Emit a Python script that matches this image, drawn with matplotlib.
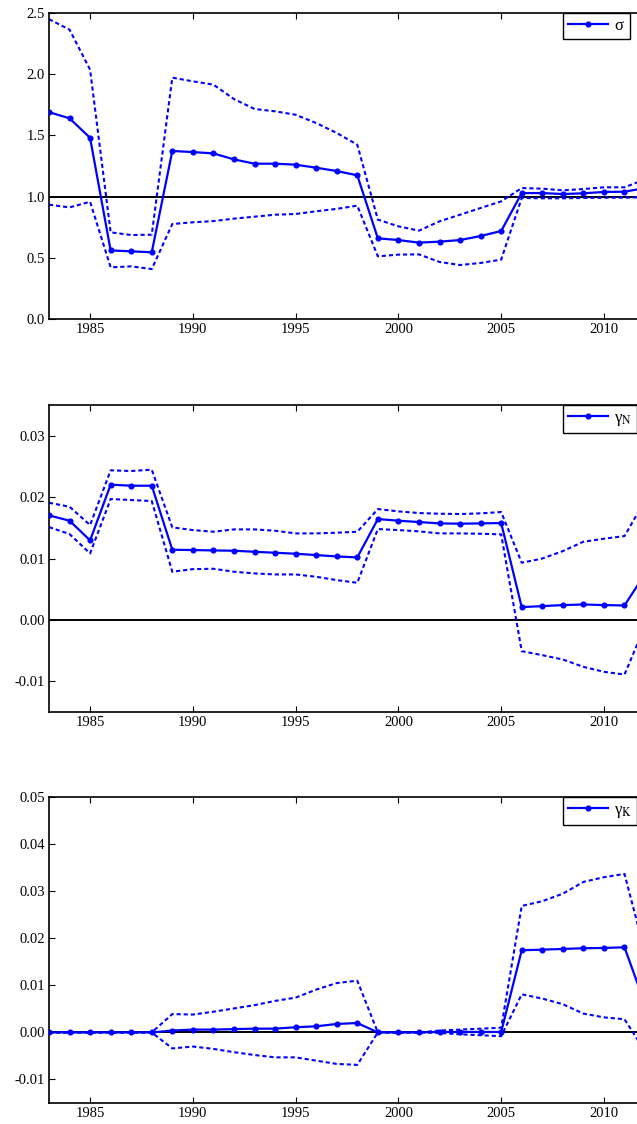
import matplotlib
matplotlib.use("Agg")
import matplotlib.pyplot as plt
import numpy as np

plt.rcParams["font.family"] = ["Liberation Serif", "DejaVu Serif"]
plt.rcParams["mathtext.fontset"] = "stix"
plt.rcParams["axes.unicode_minus"] = True

years = list(range(1983, 2013))

# sigma: posterior median and bands
sigma_mid = [1.69, 1.64, 1.48, 0.56, 0.553, 0.545, 1.373, 1.364, 1.353, 1.304,
             1.269, 1.269, 1.261, 1.236, 1.209, 1.174, 0.659, 0.645, 0.624, 0.632,
             0.645, 0.678, 0.719, 1.029, 1.029, 1.021, 1.027, 1.038, 1.04, 1.07]
sigma_hi = [2.45, 2.364, 2.037, 0.708, 0.686, 0.689, 1.972, 1.942, 1.915, 1.797,
            1.716, 1.697, 1.669, 1.601, 1.52, 1.424, 0.812, 0.757, 0.722, 0.798,
            0.852, 0.907, 0.961, 1.07, 1.065, 1.051, 1.062, 1.076, 1.076, 1.14]
sigma_lo = [0.934, 0.912, 0.958, 0.422, 0.43, 0.408, 0.776, 0.79, 0.80, 0.82,
            0.836, 0.852, 0.858, 0.88, 0.90, 0.926, 0.512, 0.526, 0.528, 0.466,
            0.441, 0.458, 0.485, 0.989, 0.986, 0.986, 0.989, 0.991, 0.991, 0.995]

# gamma_N
gn_mid = [0.01704, 0.01617, 0.01296, 0.02205, 0.02188, 0.02188, 0.01143, 0.01138,
          0.01132, 0.01127, 0.0111, 0.01094, 0.01078, 0.01056, 0.01034, 0.01018,
          0.01644, 0.01617, 0.01595, 0.01573, 0.01568, 0.01573, 0.01579, 0.00207,
          0.00223, 0.0024, 0.0025, 0.0024, 0.00234, 0.0075]
gn_hi = [0.0191, 0.01845, 0.01546, 0.02439, 0.02428, 0.0245, 0.01508, 0.01464,
         0.01437, 0.01475, 0.01475, 0.01453, 0.0141, 0.0141, 0.01421, 0.01437,
         0.01807, 0.01769, 0.01742, 0.01731, 0.01726, 0.01737, 0.01758, 0.00931,
         0.0100, 0.01121, 0.01274, 0.01323, 0.01366, 0.0195]
gn_lo = [0.01513, 0.01399, 0.01083, 0.01971, 0.01954, 0.01938, 0.00784, 0.00827,
         0.00833, 0.00784, 0.00757, 0.0074, 0.0074, 0.00702, 0.00648, 0.00604,
         0.01481, 0.01464, 0.01443, 0.0141, 0.0141, 0.01404, 0.01394, -0.00512,
         -0.00577, -0.00648, -0.00768, -0.00849, -0.00893, -0.001]

# gamma_K
gk_mid = [0.0, 0.0, 0.0, 0.0, 0.0, 0.0, 0.0004, 0.0006, 0.0006, 0.0007,
          0.0008, 0.0008, 0.0011, 0.0013, 0.0018, 0.0020, 0.0, 0.0, 0.0, 0.0001,
          0.0001, 0.0001, 0.0001, 0.01747, 0.0176, 0.01775, 0.0179, 0.01796, 0.0181, 0.006]
gk_hi = [0.0, 0.0, 0.0, 0.0, 0.0, 0.0, 0.0039, 0.0038, 0.0044, 0.0051,
         0.0058, 0.0067, 0.0074, 0.0091, 0.0105, 0.0110, 0.0, 0.0, 0.0, 0.0004,
         0.0006, 0.0008, 0.0010, 0.0269, 0.0279, 0.0295, 0.0320, 0.0330, 0.0337, 0.017]
gk_lo = [0.0, 0.0, 0.0, 0.0, 0.0, 0.0, -0.0034, -0.0030, -0.0035, -0.0042,
         -0.0048, -0.0053, -0.0053, -0.0060, -0.0067, -0.0069, 0.0, 0.0, 0.0, -0.0001,
         -0.0004, -0.0006, -0.0008, 0.0081, 0.0072, 0.0060, 0.0040, 0.0032, 0.0028, -0.004]

panels = [
    dict(mid=sigma_mid, hi=sigma_hi, lo=sigma_lo, ref=1.0, label=r"σ$\qquad$",
         ylim=(0.0, 2.5), yticks=[0.0, 0.5, 1.0, 1.5, 2.0, 2.5], fmt="%.1f",
         rect=[0.0769, 0.7162, 0.968, 0.2722]),
    dict(mid=gn_mid, hi=gn_hi, lo=gn_lo, ref=0.0, label=r"γ$_{\mathrm{N}}\quad$",
         ylim=(-0.015, 0.035), yticks=[-0.01, 0.0, 0.01, 0.02, 0.03], fmt="%.2f",
         rect=[0.0769, 0.3668, 0.968, 0.2726]),
    dict(mid=gk_mid, hi=gk_hi, lo=gk_lo, ref=0.0, label=r"γ$_{\mathrm{K}}\quad$",
         ylim=(-0.015, 0.05), yticks=[-0.01, 0.0, 0.01, 0.02, 0.03, 0.04, 0.05], fmt="%.2f",
         rect=[0.0769, 0.0187, 0.968, 0.2720]),
]

fig = plt.figure(figsize=(6.37, 11.24), dpi=100)
blue = "#0000ff"
dotted = (0, (2.0, 1.4))
for p in panels:
    ax = fig.add_axes(p["rect"])
    ax.axhline(p["ref"], color="black", lw=1.4, zorder=1)
    ax.plot(years, p["hi"], color=blue, lw=1.5, ls=dotted, zorder=2)
    ax.plot(years, p["lo"], color=blue, lw=1.5, ls=dotted, zorder=2)
    ax.plot(years, p["mid"], color=blue, lw=1.6, marker="o", ms=3.4,
            label=p["label"], zorder=3)
    ax.set_xlim(1983, 2013)
    ax.set_ylim(*p["ylim"])
    ax.set_xticks([1985, 1990, 1995, 2000, 2005, 2010])
    ax.set_yticks(p["yticks"])
    ax.yaxis.set_major_formatter(matplotlib.ticker.FormatStrFormatter(p["fmt"]))
    ax.tick_params(direction="in", length=4, width=0.8, labelsize=10.5,
                   top=True, right=True, pad=3)
    for s in ax.spines.values():
        s.set_linewidth(1.2)
    leg = ax.legend(loc="upper left", bbox_to_anchor=(0.8336, 1.0), numpoints=1,
                    fontsize=12, frameon=True, fancybox=False, edgecolor="black",
                    handlelength=2.4, borderaxespad=0.0, borderpad=0.3,
                    handletextpad=0.35, framealpha=1.0)
    leg.get_frame().set_linewidth(1.0)

fig.savefig("out.png", dpi=100)
